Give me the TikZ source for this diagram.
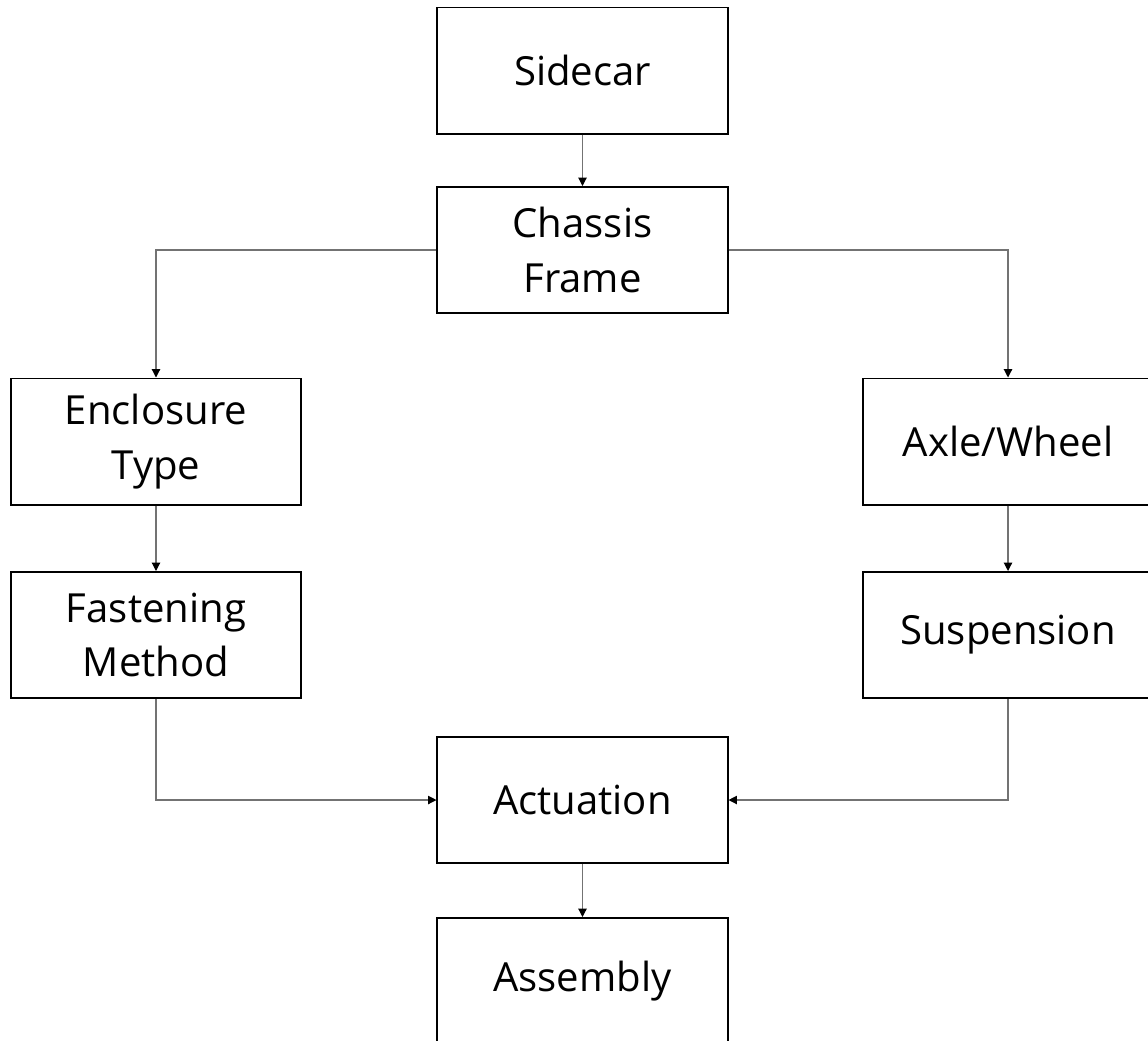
\documentclass[tikz,border=0pt]{standalone}
\usepackage{fontspec}
\setmainfont{Open Sans}
\usetikzlibrary{arrows.meta,positioning}
\tikzset{
  block/.style={rectangle,draw=black,line width=1.4pt,fill=white,
                minimum width=7.25cm,minimum height=3.15cm,align=center,
                font=\fontsize{28.5}{39}\selectfont},
  link/.style={-{Triangle[length=6pt,width=6pt,black]},line width=0.8pt,gray!90!black},
}
\begin{document}
\begin{tikzpicture}[x=0.025cm,y=-0.025cm]
    \useasboundingbox (0,0) rectangle (1148,1040);
    \clip (0,0) rectangle (1148,1040);
    \fill[white] (0,0) rectangle (1148,1040);

    \node[block] (sidecar)   at (582.5,70.5)  {Sidecar};
    \node[block] (chassis)   at (582.5,250)   {Chassis\\Frame};
    \node[block] (enclosure) at (156,441.5)   {Enclosure\\Type};
    \node[block] (axle)      at (1008,441.5)  {Axle/Wheel};
    \node[block] (fasten)    at (156,635)     {Fastening\\Method};
    \node[block] (susp)      at (1008,635)    {Suspension};
    \node[block] (actuation) at (582.5,800)   {Actuation};
    \node[block] (assembly)  at (582.5,981)   {Assembly};

    % links
    \draw[link] (sidecar) -- (chassis);
    \draw[link] (chassis.west) -| (enclosure.north);
    \draw[link] (chassis.east) -| (axle.north);
    \draw[link] (enclosure) -- (fasten);
    \draw[link] (axle) -- (susp);
    \draw[link] (fasten.south) |- (actuation.west);
    \draw[link] (susp.south) |- (actuation.east);
    \draw[link] (actuation) -- (assembly);

\end{tikzpicture}
\end{document}
